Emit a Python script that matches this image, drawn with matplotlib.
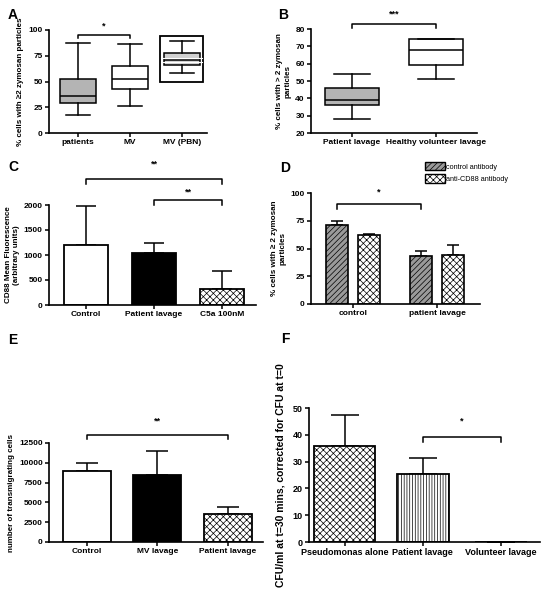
import matplotlib
matplotlib.use("Agg")
import matplotlib.pyplot as plt
from matplotlib.patches import Patch, Rectangle

plt.rcParams['font.family'] = ['Liberation Sans', 'DejaVu Sans']
plt.rcParams['font.weight'] = 'bold'
plt.rcParams['hatch.linewidth'] = 0.5

# ---- data ----
# A: box plots
a_labels = ['patients', 'MV', 'MV (PBN)']
a_whislo = [17, 26, 58]
a_q1 = [29, 43, 66]
a_med = [36, 52, 71]
a_q3 = [52, 65, 78]
a_whishi = [87, 86, 89]
a_fill = ['#b4b4b4', 'white', '#d0d0d0']

# B: box plots
b_labels = ['Patient lavage', 'Healthy volunteer lavage']
b_whislo = [28, 51]
b_q1 = [36, 59]
b_med = [39, 68]
b_q3 = [46, 74]
b_whishi = [54, 74]
b_fill = ['#b4b4b4', 'white']

# C: CD88 bars
c_labels = ['Control', 'Patient lavage', 'C5a 100nM']
c_vals = [1200, 1050, 330]
c_top = [1980, 1250, 680]

# D: grouped bars
d_groups = ['control', 'patient lavage']
d_ctrl = [71, 43]
d_ctrl_top = [75, 48]
d_anti = [62, 44]
d_anti_top = [63, 53]

# E: transmigration
e_labels = ['Control', 'MV lavage', 'Patient lavage']
e_vals = [9000, 8400, 3500]
e_top = [10000, 11500, 4400]

# F: CFU
f_labels = ['Pseudomonas alone', 'Patient lavage', 'Volunteer lavage']
f_vals = [35.8, 25.5, 0]
f_top = [47.5, 31.3, 0]

W, H = 546, 600
fig = plt.figure(figsize=(W / 100, H / 100), dpi=100)


def axes_px(left, top, right, bottom):
    return fig.add_axes([left / W, 1 - bottom / H, (right - left) / W, (bottom - top) / H])


def style(ax, fs=6):
    for s in ['top', 'right']:
        ax.spines[s].set_visible(False)
    for s in ['left', 'bottom']:
        ax.spines[s].set_linewidth(1.2)
    ax.tick_params(direction='out', length=3, width=1.1, labelsize=fs, pad=1.5)
    for t in ax.get_xticklabels() + ax.get_yticklabels():
        t.set_fontweight('bold')


def bracket(ax, x0, x1, y, drop, star, star_y, fs=6.5):
    ax.plot([x0, x0, x1, x1], [y - drop, y, y, y - drop], color='black', lw=1.1, clip_on=False)
    ax.text((x0 + x1) / 2, star_y, star, ha='center', va='center', fontsize=fs, clip_on=False)


def boxes(ax, labels, lo, q1, med, q3, hi, fills, width):
    stats = []
    for i in range(len(labels)):
        stats.append(dict(whislo=lo[i], q1=q1[i], med=med[i], q3=q3[i], whishi=hi[i], label=labels[i]))
    bp = ax.bxp(stats, positions=range(1, len(labels) + 1), widths=width, showfliers=False,
                patch_artist=True,
                boxprops=dict(linewidth=1.1, edgecolor='black'),
                medianprops=dict(color='black', linewidth=1.1),
                whiskerprops=dict(linewidth=1.1), capprops=dict(linewidth=1.1))
    for p, c in zip(bp['boxes'], fills):
        p.set_facecolor(c)
    for c in bp['caps']:
        xd = c.get_xdata()
        m = (xd[0] + xd[1]) / 2
        c.set_xdata([m - width * 0.33, m + width * 0.33])
    return bp


def bars(ax, vals, tops, colors, hatches, width, capsize):
    x = list(range(len(vals)))
    up = [t - v for t, v in zip(tops, vals)]
    ax.errorbar(x, vals, yerr=[[0] * len(vals), up], fmt='none', ecolor='black',
                elinewidth=1.1, capsize=capsize, capthick=1.1, zorder=1)
    ax.bar(x, vals, width=width, color=colors, edgecolor='black', linewidth=1.3,
           hatch=hatches, zorder=2)
    return x


# ---- A ----
axA = axes_px(49, 30, 207, 133)
boxes(axA, a_labels, a_whislo, a_q1, a_med, a_q3, a_whishi, a_fill, 0.69)
axA.plot([2.62, 3.38], [73, 73], color='white', lw=0.8, zorder=5)
axA.plot([2.62, 3.38], [69, 69], color='white', lw=0.8, zorder=5)
axA.add_patch(Rectangle((2.58, 50), 0.82, 44, fill=False, lw=1.3, ec='black'))
axA.set_xlim(0.44, 3.48)
axA.set_ylim(0, 100)
axA.set_yticks([0, 25, 50, 75, 100])
axA.set_ylabel('% cells with \u22652 zymosan particles', fontsize=5.8, fontweight='bold', labelpad=3)
bracket(axA, 1, 2, 95.5, 3, '*', 104)
style(axA)

# ---- B ----
axB = axes_px(311, 29, 477, 133)
boxes(axB, b_labels, b_whislo, b_q1, b_med, b_q3, b_whishi, b_fill, 0.65)
axB.set_xlim(0.51, 2.49)
axB.set_ylim(20, 80)
axB.set_yticks([20, 30, 40, 50, 60, 70, 80])
axB.set_ylabel('% cells with > 2 zymosan\nparticles', fontsize=5.8, fontweight='bold', labelpad=3)
bracket(axB, 1, 2, 82.8, 2, '***', 88.5)
style(axB)

# ---- C ----
axC = axes_px(49, 205, 256, 305)
x = bars(axC, c_vals, c_top, ['white', 'black', 'white'], ['', '', 'xxxxx'], 0.66, 7.5)
axC.set_xticks(x, c_labels)
axC.set_xlim(-0.544, 2.5)
axC.set_ylim(0, 2000)
axC.set_yticks([0, 500, 1000, 1500, 2000])
axC.set_ylabel('CD88 Mean Fluorescence\n(arbitrary units)', fontsize=5.8, fontweight='bold', labelpad=3)
bracket(axC, 0, 2, 2520, 90, '**', 2820)
bracket(axC, 1, 2, 2100, 90, '**', 2250)
style(axC)

# ---- D ----
axD = axes_px(311, 193, 480, 304)
gx = list(range(len(d_groups)))
off = 0.19
bw = 0.26
xc = [g - off for g in gx]
xa = [g + off for g in gx]
axD.errorbar(xc, d_ctrl, yerr=[[0, 0], [t - v for t, v in zip(d_ctrl_top, d_ctrl)]], fmt='none',
             ecolor='black', elinewidth=1.1, capsize=4.5, capthick=1.1, zorder=1)
axD.errorbar(xa, d_anti, yerr=[[0, 0], [t - v for t, v in zip(d_anti_top, d_anti)]], fmt='none',
             ecolor='black', elinewidth=1.1, capsize=4.5, capthick=1.1, zorder=1)
axD.bar(xc, d_ctrl, width=bw, color='#9a9a9a', edgecolor='black', linewidth=1.2,
        hatch='//////', zorder=2)
axD.bar(xa, d_anti, width=bw, color='white', edgecolor='black', linewidth=1.2,
        hatch='xxxxx', zorder=2)
axD.set_xticks(gx, d_groups)
axD.set_xlim(-0.5, 1.51)
axD.set_ylim(0, 100)
axD.set_yticks([0, 25, 50, 75, 100])
axD.set_ylabel('% cells with \u2265 2 zymosan\nparticles', fontsize=5.8, fontweight='bold', labelpad=3)
bracket(axD, -off, 1 - off, 90, 4, '*', 101)
style(axD)
handles = [Patch(facecolor='#9a9a9a', edgecolor='black', hatch='//////', lw=1),
           Patch(facecolor='white', edgecolor='black', hatch='xxxxx', lw=1)]
leg = fig.legend(handles, ['control antibody', 'anti-CD88 antibody'], loc='upper left',
                 bbox_to_anchor=(425 / W, 1 - 162 / H), frameon=False, fontsize=5.2,
                 handlelength=2.8, handleheight=1.4, handletextpad=0.1, labelspacing=0.5,
                 borderaxespad=0, borderpad=0)
for t in leg.get_texts():
    t.set_fontweight('normal')

# ---- E ----
axE = axes_px(49, 443, 263, 542)
x = bars(axE, e_vals, e_top, ['white', 'black', 'white'], ['', '', 'xxxxx'], 0.68, 8)
axE.set_xticks(x, e_labels)
axE.set_xlim(-0.54, 2.5)
axE.set_ylim(0, 12500)
axE.set_yticks([0, 2500, 5000, 7500, 10000, 12500])
axE.set_ylabel('number of transmigrating cells', fontsize=5.8, fontweight='bold', labelpad=3)
bracket(axE, 0, 2, 13500, 500, '**', 15300)
style(axE)

# ---- F ----
axF = axes_px(309, 408, 540, 542)
x = list(range(len(f_vals)))
axF.errorbar(x, f_vals, yerr=[[0] * 3, [t - v for t, v in zip(f_top, f_vals)]], fmt='none',
             ecolor='black', elinewidth=1.1, capsize=10, capthick=1.1, zorder=1)
axF.bar(x, f_vals, width=[0.78, 0.66, 0.66], color='white', edgecolor='black', linewidth=1.3,
        hatch=['xxxxx', '||||||', ''], zorder=2)
axF.set_xticks(x, f_labels)
axF.set_xlim(-0.455, 2.5)
axF.set_ylim(0, 50)
axF.set_yticks([0, 10, 20, 30, 40, 50])
axF.set_ylabel('CFU/ml at t=30 mins, corrected for CFU at t=0', fontsize=7.5,
               fontweight='bold', labelpad=5)
bracket(axF, 1, 2, 39, 1.5, '*', 45)
style(axF, fs=6.5)

# panel letters
for lab, px, py in [('A', 13, 15), ('B', 283, 15), ('C', 13, 167),
                    ('D', 285, 168), ('E', 13, 340), ('F', 285, 339)]:
    fig.text(px / W, 1 - py / H, lab, fontsize=10, fontweight='bold', ha='center', va='center')

fig.savefig('out.png', dpi=100)
